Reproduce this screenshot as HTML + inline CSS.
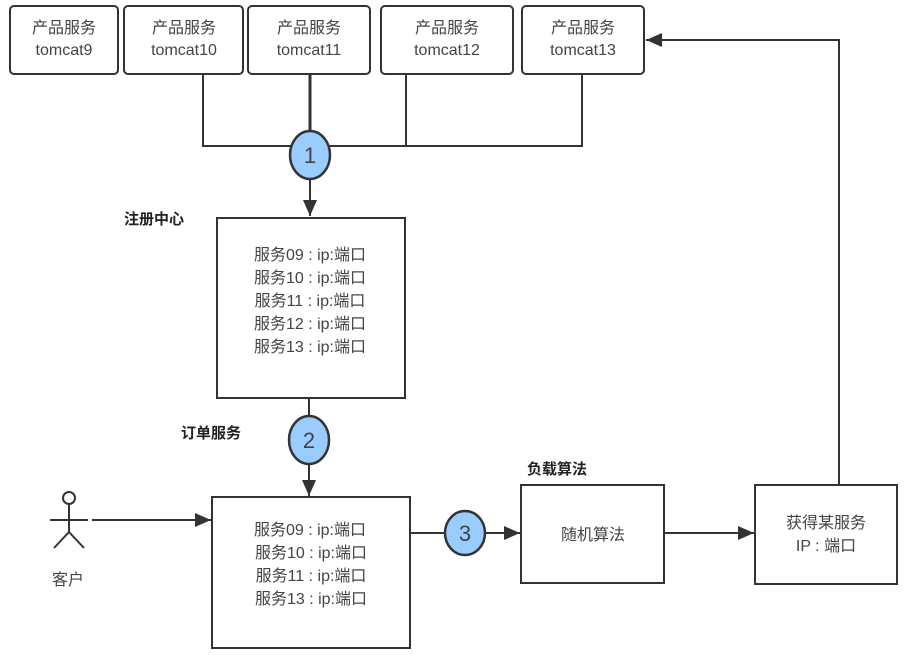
<!DOCTYPE html>
<html><head><meta charset="utf-8"><style>
html,body{margin:0;padding:0;background:#fff;}
svg{display:block;}
text{font-family:"Liberation Sans","Noto Sans CJK SC",sans-serif;fill:#444;}
.b{font-weight:bold;fill:#222;}
</style></head><body>
<svg width="907" height="655" viewBox="0 0 907 655" xmlns="http://www.w3.org/2000/svg">
<defs>
<marker id="ab" viewBox="0 0 16 14" markerWidth="16" markerHeight="14" refX="16" refY="7" orient="auto" markerUnits="userSpaceOnUse"><path d="M0,0 L16,7 L0,14 z" fill="#333"/></marker></defs>
<g fill="#fff" stroke="#333" stroke-width="2">
<rect x="10" y="6" width="108" height="68" rx="4"/>
<rect x="124" y="6" width="119" height="68" rx="4"/>
<rect x="248" y="6" width="122" height="68" rx="4"/>
<rect x="381" y="6" width="132" height="68" rx="4"/>
<rect x="522" y="6" width="122" height="68" rx="4"/>
</g>
<g font-size="16" text-anchor="middle">
<text x="64" y="33">产品服务</text><text x="64" y="55">tomcat9</text>
<text x="184" y="33">产品服务</text><text x="184" y="55">tomcat10</text>
<text x="309" y="33">产品服务</text><text x="309" y="55">tomcat11</text>
<text x="447" y="33">产品服务</text><text x="447" y="55">tomcat12</text>
<text x="583" y="33">产品服务</text><text x="583" y="55">tomcat13</text>
</g>
<g stroke="#333" stroke-width="2" fill="none">
<path d="M203,74 V146 H582 V74"/>
<path d="M406,74 V146"/>
<path d="M310,74 V146" stroke-width="3"/>
<path d="M310,178 V216" marker-end="url(#ab)"/>
<path d="M309,398 V418"/>
<path d="M309,462 V496" marker-end="url(#ab)"/>
<path d="M92,520 H211" marker-end="url(#ab)"/>
<path d="M410,533 H445"/>
<path d="M485,533 H520" marker-end="url(#ab)"/>
<path d="M664,533 H754" marker-end="url(#ab)"/>
<path d="M839,484 V40 H646" marker-end="url(#ab)"/>
</g>
<g fill="#fff" stroke="#333" stroke-width="2">
<rect x="217" y="218" width="188" height="180"/>
<rect x="212" y="497" width="198" height="151"/>
<rect x="521" y="485" width="143" height="98"/>
<rect x="755" y="485" width="142" height="99"/>
</g>
<g fill="#99ccff" stroke="#333" stroke-width="2.5">
<ellipse cx="310" cy="155" rx="20" ry="24"/>
<ellipse cx="309" cy="440" rx="20" ry="24"/>
<ellipse cx="465" cy="533" rx="20" ry="22"/>
</g>
<g font-size="22" text-anchor="middle">
<text x="310" y="163">1</text><text x="309" y="448">2</text><text x="465" y="541">3</text>
</g>
<g font-size="16" text-anchor="middle">
<text x="310" y="260">服务09 : ip:端口</text>
<text x="310" y="283">服务10 : ip:端口</text>
<text x="310" y="306">服务11 : ip:端口</text>
<text x="310" y="329">服务12 : ip:端口</text>
<text x="310" y="352">服务13 : ip:端口</text>
<text x="310" y="535">服务09 : ip:端口</text>
<text x="311" y="558">服务10 : ip:端口</text>
<text x="311" y="581">服务11 : ip:端口</text>
<text x="311" y="604">服务13 : ip:端口</text>
<text x="593" y="540">随机算法</text>
<text x="826" y="528">获得某服务</text>
<text x="826" y="551">IP : 端口</text>
<text x="68" y="585">客户</text>
</g>
<g font-size="15">
<text class="b" x="124" y="224">注册中心</text>
<text class="b" x="181" y="438">订单服务</text>
<text class="b" x="527" y="474">负载算法</text>
</g>
<g stroke="#333" stroke-width="2" fill="#fff">
<circle cx="69" cy="498" r="6"/>
<path d="M69,504 V532 M50,520 H88 M69,532 L54,548 M69,532 L84,548" fill="none"/>
</g>
</svg>
</body></html>
